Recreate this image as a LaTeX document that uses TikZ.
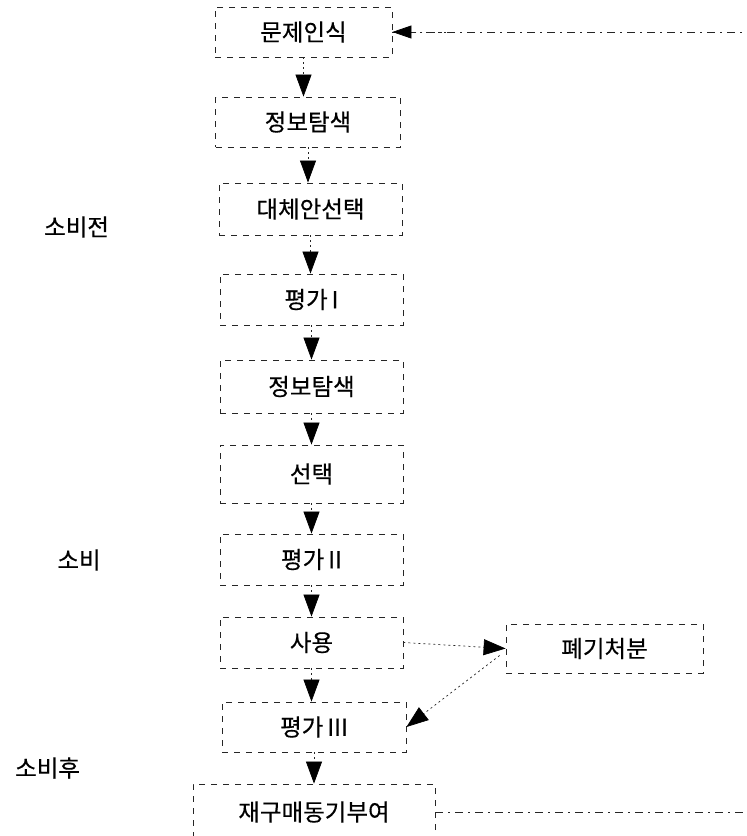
\documentclass[tikz,border=0pt]{standalone}
\usepackage{fontspec}
\newfontfamily\cjk[FakeBold=0.4]{Noto Sans CJK KR}
\usetikzlibrary{arrows.meta,calc}
\tikzset{
  box/.style={draw=black!85, line width=0.8pt, dash pattern=on 6pt off 6pt,
    rectangle, inner sep=0pt, font=\cjk\fontsize{23.5}{28}\selectfont},
  lbl/.style={inner sep=0pt, font=\cjk\fontsize{23.5}{28}\selectfont},
  bigtip/.tip={Triangle[length=22pt,width=16pt,fill=black,color=black]},
  flow/.style={draw=black!85, line width=0.7pt, dash pattern=on 2pt off 3pt,
    -bigtip},
  back/.style={draw=black!85, line width=0.8pt, dash pattern=on 8pt off 5pt on 2pt off 5pt},
}
\begin{document}
\begin{tikzpicture}[x=1pt,y=-1pt]
\useasboundingbox (0,0) rectangle (747,836);
% boxes
\node[box, minimum width=177pt, minimum height=50pt] (b1) at (303.5,32) {문제인식};
\node[box, minimum width=185pt, minimum height=50pt] (b2) at (308,122) {정보탐색};
\node[box, minimum width=183pt, minimum height=52pt] (b3) at (310.5,209) {대체안선택};
\node[box, minimum width=183pt, minimum height=51pt] (b4) at (311.5,299.5) {평가\,I};
\node[box, minimum width=183pt, minimum height=53pt] (b5) at (311.5,386.5) {정보탐색};
\node[box, minimum width=183pt, minimum height=58pt] (b6) at (311.5,474) {선택};
\node[box, minimum width=183pt, minimum height=51pt] (b7) at (311.5,559.5) {평가\,II};
\node[box, minimum width=183pt, minimum height=51pt] (b8) at (311.5,642.5) {사용};
\node[box, minimum width=184pt, minimum height=50pt] (b9) at (314,727) {평가\,III};
\node[box, minimum width=242pt, minimum height=56pt] (b10) at (314,812) {재구매동기부여};
\node[box, minimum width=197pt, minimum height=49pt] (d) at (604.5,648.5) {폐기처분};
% side labels
\node[lbl] (l1) at (76.5,227) {소비전};
\node[lbl] (l2) at (79,560) {소비};
\node[lbl] (l3) at (47.5,768) {소비후};
% vertical flow
\foreach \a/\b in {b1/b2,b2/b3,b3/b4,b4/b5,b5/b6,b6/b7,b7/b8,b8/b9,b9/b10}
  \draw[flow] (\a.south) -- (\a.south |- \b.north);
% disposal
\draw[flow] (b8.east) -- (d.west);
\draw[flow] ($(d.west)+(-6,7)$) -- (b9.east);
% feedback loop
\coordinate (rb) at (765,812);
\coordinate (rt) at (765,32);
\draw[back] (b10.east) -- (rb) -- (rt) -- (rt -| b1.east);
\draw[-{Triangle[length=19pt,width=13pt,fill=black,color=black]}, draw=black!85, line width=0.7pt, dash pattern=on 2pt off 4pt]
  ($(b1.east)+(60,0)$) -- (b1.east);
\end{tikzpicture}
\end{document}
